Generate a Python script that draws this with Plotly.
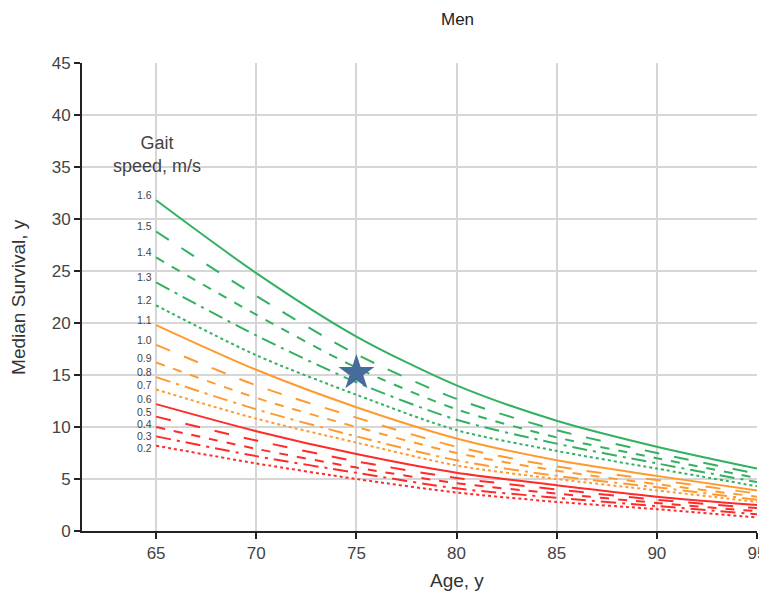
import plotly.graph_objects as go

ages = [65, 70, 75, 80, 85, 90, 95]
speeds = ["1.6", "1.5", "1.4", "1.3", "1.2", "1.1", "1.0", "0.9", "0.8", "0.7", "0.6", "0.5", "0.4", "0.3", "0.2"]
s16 = [31.8, 24.8, 18.7, 14.0, 10.6, 8.1, 6.0]
s15 = [28.8, 22.6, 17.0, 12.7, 9.7, 7.5, 5.5]
s14 = [26.3, 20.8, 15.7, 11.7, 9.0, 7.0, 5.1]
s13 = [23.9, 18.8, 14.3, 10.7, 8.4, 6.5, 4.7]
s12 = [21.7, 16.9, 13.1, 9.7, 7.7, 6.0, 4.3]
s11 = [19.8, 15.5, 11.9, 8.9, 6.8, 5.3, 3.9]
s10 = [17.9, 14.0, 10.9, 8.1, 6.2, 4.9, 3.6]
s09 = [16.2, 12.8, 10.0, 7.5, 5.8, 4.5, 3.3]
s08 = [14.8, 11.7, 9.1, 6.8, 5.3, 4.2, 3.0]
s07 = [13.6, 10.8, 8.5, 6.3, 5.0, 3.9, 2.8]
s06 = [12.2, 9.6, 7.4, 5.6, 4.4, 3.3, 2.5]
s05 = [11.0, 8.7, 6.7, 5.1, 4.0, 3.0, 2.2]
s04 = [10.0, 7.9, 6.1, 4.6, 3.6, 2.7, 1.9]
s03 = [9.1, 7.2, 5.6, 4.1, 3.2, 2.4, 1.6]
s02 = [8.2, 6.5, 5.0, 3.7, 2.8, 2.1, 1.3]
series = [s16, s15, s14, s13, s12, s11, s10, s09, s08, s07, s06, s05, s04, s03, s02]

star_age = [75]
star_val = [15.2]

GREEN = "#33b060"
ORANGE = "#ff9a30"
RED = "#ff2a2a"
colors = [GREEN] * 5 + [ORANGE] * 5 + [RED] * 5
dashes = ["solid", "longdash", "dash", "longdashdot", "dot"] * 3

fig = go.Figure()
for vals, c, d in zip(series, colors, dashes):
    fig.add_trace(go.Scatter(x=ages, y=vals, mode="lines",
                             line=dict(color=c, dash=d, width=2, shape="spline", smoothing=0.8),
                             showlegend=False, hoverinfo="skip"))

fig.add_trace(go.Scatter(x=star_age, y=star_val, mode="markers",
                         marker=dict(symbol="star", size=27, color="#466c9c",
                                     line=dict(width=0)),
                         showlegend=False))

font_main = "Liberation Sans, Arial, sans-serif"

# speed labels: placed just above each curve's start, kept a few pixels apart
px_per_unit = 468 / 45.0
min_gap = 12 / px_per_unit
label_y = []
prev = None
for vals in series:
    y = vals[0] + 5 / px_per_unit
    if prev is not None and prev - y < min_gap:
        y = prev - min_gap
    label_y.append(y)
    prev = y
for lab, y in zip(speeds, label_y):
    fig.add_annotation(x=ages[0], y=y, text=lab, xref="x", yref="y",
                       showarrow=False, xanchor="right", yanchor="middle",
                       xshift=-2, font=dict(size=10.5, color="#444", family=font_main))

fig.add_annotation(x=0.111, y=0.755, xref="paper", yref="paper", text="Gait<br>speed, m/s",
                   showarrow=False, xanchor="center", yanchor="bottom",
                   font=dict(size=18, color="#444", family=font_main))
fig.add_annotation(x=0.556, y=1.092, xref="paper", yref="paper", text="Men",
                   showarrow=False, xanchor="center", yanchor="middle",
                   font=dict(size=17, color="#222", family=font_main))
fig.add_annotation(x=0.555, y=-0.105, xref="paper", yref="paper", text="Age, y",
                   showarrow=False, xanchor="center", yanchor="middle",
                   font=dict(size=19, color="#333", family=font_main))
fig.add_annotation(x=-0.095, y=0.5, xref="paper", yref="paper", text="Median Survival, y",
                   showarrow=False, xanchor="center", yanchor="middle", textangle=-90,
                   font=dict(size=19, color="#333", family=font_main))

# page body adds an 8px offset; size and margins compensate so the plot area sits at 82..757 x 63..531
fig.update_layout(
    width=759, height=589,
    margin=dict(l=74, r=10, t=55, b=66),
    plot_bgcolor="white", paper_bgcolor="white",
    font=dict(family=font_main, size=17, color="#444"),
)
fig.update_xaxes(range=[61.3, 95], tickvals=[65, 70, 75, 80, 85, 90, 95],
                 showgrid=True, gridcolor="#d6d6d6", gridwidth=1.5,
                 showline=True, linecolor="#222", linewidth=2,
                 ticks="outside", ticklen=6, tickcolor="#222", tickwidth=2,
                 zeroline=False, automargin=False, tickfont=dict(size=17, color="#444"))
fig.update_yaxes(range=[0, 45], tickvals=list(range(0, 50, 5)),
                 showgrid=True, gridcolor="#d6d6d6", gridwidth=1.5,
                 showline=True, linecolor="#222", linewidth=2,
                 ticks="outside", ticklen=6, tickcolor="#222", tickwidth=2,
                 zeroline=False, automargin=False, tickfont=dict(size=17, color="#444"))

fig.write_html("out.html")
